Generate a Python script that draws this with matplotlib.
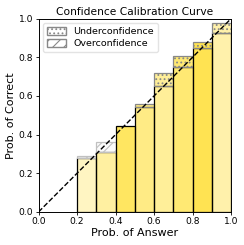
import matplotlib
matplotlib.use("Agg")
import matplotlib.pyplot as plt
import matplotlib.patches as mpatches
import numpy as np

bin_lefts = [0.2, 0.3, 0.4, 0.5, 0.6, 0.7, 0.8, 0.9]
confidence = [0.287, 0.360, 0.447, 0.544, 0.654, 0.752, 0.849, 0.928]
accuracy = [0.279, 0.311, 0.447, 0.558, 0.720, 0.807, 0.881, 0.978]
density_alpha = [0.24, 0.37, 0.62, 0.48, 0.40, 0.55, 0.68, 0.33]

plt.rcParams['hatch.color'] = '#999999'
plt.rcParams['hatch.linewidth'] = 0.8

fig = plt.figure(figsize=(2.44, 2.45), dpi=100)
ax = fig.add_axes([0.158, 0.135, 0.789, 0.789])

width = 0.1
for x, c, a, al in zip(bin_lefts, confidence, accuracy, density_alpha):
    base = min(c, a)
    ax.bar(x, base, width=width, align='edge', color=(1.0, 0.843, 0.0, al),
           edgecolor='black', linewidth=0.9, zorder=2)
    if a > c:
        ax.bar(x, a - c, bottom=c, width=width, align='edge',
               color=(1.0, 0.843, 0.0, al), edgecolor='#888888',
               linewidth=0.9, hatch='....', zorder=2)
    elif c > a:
        ax.bar(x, c - a, bottom=a, width=width, align='edge',
               color=(0.95, 0.95, 0.95, 0.3), edgecolor='#c0c0c0',
               linewidth=0.9, hatch='///', zorder=2)

ax.plot([0, 1], [0, 1], linestyle='--', color='black', linewidth=1.0, zorder=3)

ax.set_xlim(0, 1)
ax.set_ylim(0, 1)
ticks = [0.0, 0.2, 0.4, 0.6, 0.8, 1.0]
ax.set_xticks(ticks)
ax.set_yticks(ticks)
ax.tick_params(labelsize=6.6, length=2.5, width=0.6, pad=1.5)
ax.set_xlabel('Prob. of Answer', fontsize=8, labelpad=1)
ax.set_ylabel('Prob. of Correct', fontsize=8, labelpad=2)
ax.set_title('Confidence Calibration Curve', fontsize=7.7, pad=2.5)
for s in ax.spines.values():
    s.set_linewidth(0.7)

h1 = mpatches.Patch(facecolor='white', edgecolor='#888888', hatch='....', label='Underconfidence')
h2 = mpatches.Patch(facecolor='white', edgecolor='#888888', hatch='///', label='Overconfidence')
ax.legend(handles=[h1, h2], loc='upper left', fontsize=6.8, handlelength=2.0,
          handleheight=0.9, borderpad=0.4, labelspacing=0.3, handletextpad=0.8,
          framealpha=0.8, edgecolor='#dddddd')

fig.savefig('out.png', dpi=100)
